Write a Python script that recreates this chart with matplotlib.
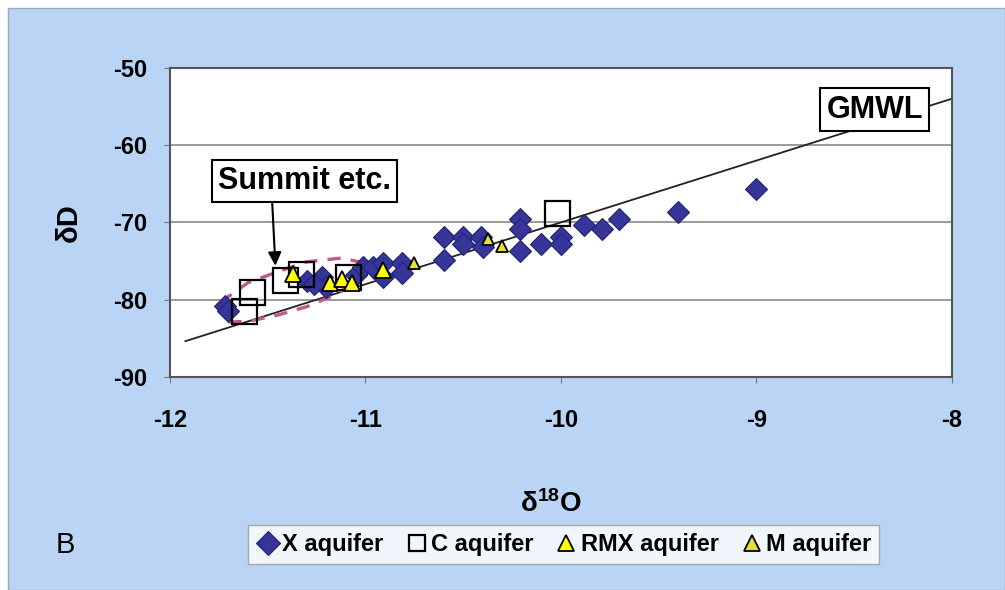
import numpy as np
import matplotlib.pyplot as plt
from matplotlib.patches import Rectangle

plt.rcParams['font.family'] = ['Liberation Sans', 'DejaVu Sans']
plt.rcParams['axes.unicode_minus'] = False
plt.rcParams['mathtext.fontset'] = 'custom'
plt.rcParams['mathtext.rm'] = 'Liberation Sans'
plt.rcParams['mathtext.bf'] = 'Liberation Sans:bold'

# X aquifer (diamonds)
x_aq_o18 = [-11.72, -11.70, -11.30, -11.22, -11.20, -11.26, -11.05, -11.01, -10.96,
            -10.91, -10.91, -10.81, -10.81, -10.60, -10.60, -10.50, -10.50, -10.41,
            -10.40, -10.21, -10.21, -10.21, -10.10, -10.00, -10.00, -9.88, -9.79,
            -9.70, -9.40, -9.00]
x_aq_dd = [-80.8, -81.5, -77.6, -77.0, -78.3, -78.0, -76.8, -75.8, -75.8,
           -75.2, -77.0, -75.2, -76.5, -71.9, -74.8, -71.9, -72.8, -71.9,
           -73.2, -69.6, -70.9, -73.7, -72.8, -71.9, -72.8, -70.3, -70.9,
           -69.6, -68.7, -65.7]

# C aquifer (open squares)
c_aq_o18 = [-11.62, -11.58, -11.41, -11.33, -11.09, -10.02]
c_aq_dd = [-81.4, -79.0, -77.5, -76.7, -77.1, -68.8]

# RMX aquifer (triangles)
rmx_o18 = [-11.37, -11.18, -11.12, -11.07, -10.91]
rmx_dd = [-76.7, -77.8, -77.3, -77.8, -76.1]

# M aquifer (triangles)
m_o18 = [-10.75, -10.37, -10.30]
m_dd = [-75.2, -72.2, -73.1]

# "Summit etc." dashed envelope
env_o18 = [-11.74, -11.60, -11.45, -11.30, -11.12, -10.98, -11.05, -11.15, -11.30,
           -11.45, -11.60, -11.72, -11.74]
env_dd = [-80.3, -77.8, -76.4, -75.1, -74.6, -75.4, -77.6, -79.3, -80.9,
          -82.0, -82.8, -82.9, -80.3]

# Global meteoric water line dD = 8*d18O + 10
gmwl_o18 = np.array([-11.92, -8.0])
gmwl_dd = 8 * gmwl_o18 + 10

fig = plt.figure(figsize=(10.05, 5.9), dpi=100)
fig.patch.set_facecolor('white')
fig.patches.append(Rectangle((0.008, 0.0), 0.992, 0.986, transform=fig.transFigure,
                             facecolor='#bad4f5', edgecolor='#9aa8b8', lw=1, zorder=-10))

ax = fig.add_axes([0.169, 0.361, 0.778, 0.524])
ax.set_facecolor('white')

ax.plot(gmwl_o18, gmwl_dd, color='#222222', lw=1.3, zorder=2)
ax.plot(env_o18, env_dd, color='#c0588a', lw=2.4, ls=(0, (4, 3)), zorder=3)

ax.plot(x_aq_o18, x_aq_dd, 'D', ms=11, color='#35359a', mec='#23236e', mew=0.8,
        label='X aquifer', zorder=4)
ax.plot(c_aq_o18, c_aq_dd, 's', ms=18, mfc='none', mec='black', mew=1.6,
        label='C aquifer', zorder=5)
ax.plot(rmx_o18, rmx_dd, '^', ms=11, color='#ffff00', mec='black', mew=1.3,
        label='RMX aquifer', zorder=6)
ax.plot(m_o18, m_dd, '^', ms=9, color='#e8e030', mec='black', mew=1.3,
        label='M aquifer', zorder=6)

ax.set_xlim(-12, -8)
ax.set_ylim(-90, -50)
ax.set_xticks([-12, -11, -10, -9, -8])
ax.set_yticks([-90, -80, -70, -60, -50])
ax.grid(axis='y', color='#9a9a9a', lw=1.4)
ax.set_axisbelow(True)
for s in ax.spines.values():
    s.set_color('#555555')
    s.set_linewidth(1.5)
ax.tick_params(axis='both', length=4, color='#777777', labelsize=17)
ax.tick_params(axis='x', pad=19)
ax.tick_params(axis='y', pad=12)
for lab in ax.get_xticklabels() + ax.get_yticklabels():
    lab.set_fontweight('bold')

ax.set_xlabel(r'$\mathbf{\delta^{18}O}$', fontsize=20)
ax.xaxis.set_label_coords(0.487, -0.365)
ax.set_ylabel('δD', fontsize=21, fontweight='bold')
ax.yaxis.set_label_coords(-0.112, 0.5)

ax.annotate('Summit etc.', xy=(-11.46, -75.6), xytext=(-11.31, -64.6),
            fontsize=22, fontweight='bold', ha='center', va='center',
            bbox=dict(boxstyle='square,pad=0.2', fc='white', ec='black', lw=1.5),
            arrowprops=dict(arrowstyle='-|>', color='black', lw=1.5,
                            mutation_scale=20, relpos=(0.31, 0), shrinkA=0, shrinkB=0),
            zorder=7)
ax.text(-8.395, -55.4, 'GMWL', fontsize=22, fontweight='bold', ha='center',
        va='center', zorder=7,
        bbox=dict(boxstyle='square,pad=0.2', fc='white', ec='black', lw=1.5))

leg = fig.legend(loc='center', bbox_to_anchor=(0.561, 0.077), ncol=4,
                 frameon=True, fancybox=False, handletextpad=0.1,
                 columnspacing=0.9, handlelength=1.0, borderpad=0.35,
                 prop={'weight': 'bold', 'size': 17})
leg.get_frame().set_edgecolor('#999999')
for h in leg.legend_handles:
    h.set_markersize(12)

fig.text(0.065, 0.076, 'B', fontsize=21, ha='center', va='center')

fig.savefig('out.png', dpi=100)
